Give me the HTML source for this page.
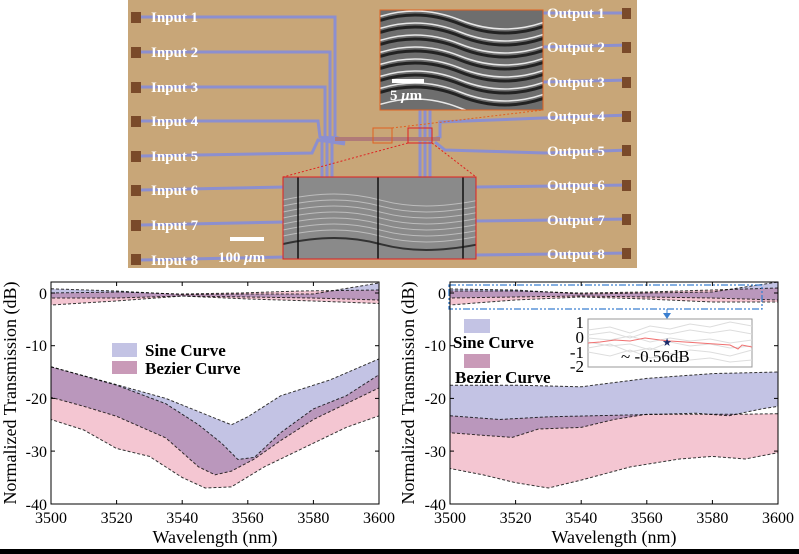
<!DOCTYPE html>
<html><head><meta charset="utf-8"><style>
html,body{margin:0;padding:0;background:#fff;}
svg{display:block;}
.t{font-family:"Liberation Serif",serif;}
</style></head><body>
<svg width="799" height="554" viewBox="0 0 799 554" xmlns="http://www.w3.org/2000/svg">
<defs>
<clipPath id="cl"><rect x="51" y="282" width="328" height="222"/></clipPath>
<clipPath id="cr"><rect x="450" y="282" width="328" height="222"/></clipPath>
<clipPath id="ci1"><rect x="380" y="10" width="163" height="100"/></clipPath>
<clipPath id="ci2"><rect x="283" y="177" width="193" height="82"/></clipPath>
</defs>
<!-- top micrograph -->
<rect x="128" y="0" width="509" height="268" fill="#c8a678"/>
<g fill="none" stroke="#8c8fcf" stroke-width="3">
<polyline points="141,17 335,17 335,137 345,140"/>
<polyline points="141,52 330,52 330,137 345,141"/>
<polyline points="141,87 325,87 325,137 345,142"/>
<polyline points="141,121 318,121 320,137 345,143"/>
<polyline points="141,156 312,153 318,140 345,144"/>
<polyline points="141,190 285,187"/>
<polyline points="141,225 285,222"/>
<polyline points="141,260 285,257"/>
<polyline points="322,140 322,178"/><polyline points="327,140 327,178"/><polyline points="332,140 332,178"/>
<polyline points="420,110 420,178"/><polyline points="425,110 425,178"/><polyline points="430,110 430,178"/>
<polyline points="430,140 440,137 440,122 543,118 630,115"/>
<polyline points="435,142 445,150 545,153 630,150"/>
<polyline points="543,13 630,13"/><polyline points="543,47 630,45"/><polyline points="543,82 630,80"/>
<polyline points="476,187 630,185"/><polyline points="476,221 630,219"/><polyline points="476,255 630,253"/>
</g>
<polyline points="335,139 440,139" stroke="#b07a78" stroke-width="4" fill="none"/>
<g fill="#7a4a2a">
<rect x="131" y="12" width="10" height="11"/><rect x="131" y="47" width="10" height="11"/><rect x="131" y="82" width="10" height="11"/><rect x="131" y="116" width="10" height="11"/><rect x="131" y="151" width="10" height="11"/><rect x="131" y="185" width="10" height="11"/><rect x="131" y="220" width="10" height="11"/><rect x="131" y="254" width="10" height="11"/>
<rect x="622" y="8" width="9" height="11"/><rect x="622" y="42" width="9" height="11"/><rect x="622" y="77" width="9" height="11"/><rect x="622" y="111" width="9" height="11"/><rect x="622" y="145" width="9" height="11"/><rect x="622" y="180" width="9" height="11"/><rect x="622" y="214" width="9" height="11"/><rect x="622" y="248" width="9" height="11"/>
</g>
<rect x="373" y="128" width="19" height="15" fill="none" stroke="#e06020" stroke-width="1"/>
<rect x="408" y="128" width="24" height="15" fill="none" stroke="#e02020" stroke-width="1"/>
<line x1="392" y1="128" x2="543" y2="110" stroke="#e06020" stroke-dasharray="2,2"/>
<line x1="408" y1="143" x2="283" y2="177" stroke="#e02020" stroke-dasharray="2,2"/>
<line x1="432" y1="143" x2="476" y2="177" stroke="#e02020" stroke-dasharray="2,2"/>
<!-- inset 1 -->
<rect x="380" y="10" width="163" height="100" fill="#6e6e6e"/>
<g clip-path="url(#ci1)" fill="none">
<path d="M370,20 C400,8 430,8 460,20 S520,32 550,20" stroke="#e8e8e8" stroke-width="1.5"/>
<path d="M370,24 C400,12 430,12 460,24 S520,36 550,24" stroke="#222" stroke-width="3"/>
<path d="M370,32 C400,20 430,20 460,32 S520,44 550,32" stroke="#e8e8e8" stroke-width="1.5"/>
<path d="M370,36 C400,24 430,24 460,36 S520,48 550,36" stroke="#222" stroke-width="3"/>
<path d="M370,44 C400,32 430,32 460,44 S520,56 550,44" stroke="#e8e8e8" stroke-width="1.5"/>
<path d="M370,48 C400,36 430,36 460,48 S520,60 550,48" stroke="#222" stroke-width="3"/>
<path d="M370,56 C400,44 430,44 460,56 S520,68 550,56" stroke="#e8e8e8" stroke-width="1.5"/>
<path d="M370,60 C400,48 430,48 460,60 S520,72 550,60" stroke="#222" stroke-width="3"/>
<path d="M370,68 C400,56 430,56 460,68 S520,80 550,68" stroke="#e8e8e8" stroke-width="1.5"/>
<path d="M370,72 C400,60 430,60 460,72 S520,84 550,72" stroke="#222" stroke-width="3"/>
<path d="M370,80 C400,68 430,68 460,80 S520,92 550,80" stroke="#e8e8e8" stroke-width="1.5"/>
<path d="M370,84 C400,72 430,72 460,84 S520,96 550,84" stroke="#222" stroke-width="3"/>
<path d="M370,92 C400,80 430,80 460,92 S520,104 550,92" stroke="#e8e8e8" stroke-width="1.5"/>
<path d="M370,96 C400,84 430,84 460,96 S520,108 550,96" stroke="#222" stroke-width="3"/>
<path d="M370,108 C400,96 430,96 460,108 S520,120 550,108" stroke="#e8e8e8" stroke-width="1.5"/>
</g>
<rect x="380" y="10" width="163" height="100" fill="none" stroke="#e06020" stroke-width="1"/>
<rect x="392" y="79" width="32" height="4" fill="#fff"/>
<text x="390" y="100" class="t" font-size="15" font-weight="bold" fill="#fff">5 <tspan font-style="italic">μ</tspan>m</text>
<!-- inset 2 -->
<rect x="283" y="177" width="193" height="82" fill="#8a8a8a"/>
<g clip-path="url(#ci2)" fill="none" stroke="#bdbdbd" stroke-width="1">
<path d="M283,200 C320,192 350,192 380,200 S440,208 480,200"/>
<path d="M283,206 C320,198 350,198 380,206 S440,214 480,206"/>
<path d="M283,212 C320,204 350,204 380,212 S440,220 480,212"/>
<path d="M283,218 C320,210 350,210 380,218 S440,226 480,218"/>
<path d="M283,224 C320,216 350,216 380,224 S440,232 480,224"/>
<path d="M283,230 C320,222 350,222 380,230 S440,238 480,230"/>
<path d="M283,236 C320,228 350,228 380,236 S440,244 480,236"/>
<path d="M283,244 C320,236 350,236 380,244 S440,252 480,244" stroke="#333" stroke-width="2"/>
</g>
<g stroke="#111" stroke-width="1.5"><line x1="298" y1="177" x2="298" y2="259"/><line x1="378" y1="177" x2="378" y2="259"/><line x1="463" y1="177" x2="463" y2="259"/></g>
<rect x="283" y="177" width="193" height="82" fill="none" stroke="#e02020" stroke-width="1"/>
<rect x="230" y="237" width="34" height="4" fill="#fff"/>
<text x="218" y="262" class="t" font-size="15" font-weight="bold" fill="#fff">100 <tspan font-style="italic">μ</tspan>m</text>
<g class="t" font-size="15" font-weight="bold" fill="#fff">
<text x="151" y="22">Input 1</text><text x="151" y="57">Input 2</text><text x="151" y="92">Input 3</text><text x="151" y="126">Input 4</text><text x="151" y="161">Input 5</text><text x="151" y="195">Input 6</text><text x="151" y="230">Input 7</text><text x="151" y="265">Input 8</text>
<text x="547" y="18">Output 1</text><text x="547" y="52">Output 2</text><text x="547" y="87">Output 3</text><text x="547" y="121">Output 4</text><text x="547" y="156">Output 5</text><text x="547" y="190">Output 6</text><text x="547" y="225">Output 7</text><text x="547" y="259">Output 8</text>
</g>

<!-- LEFT CHART -->
<g clip-path="url(#cl)" stroke="#333" stroke-width="1" stroke-dasharray="3,2">
<path fill="#f4c6d2" d="M51,366.8 L116.6,385.2 L165.8,403.7 L198.6,424.8 L221.6,443.2 L237.9,459.5 L254.4,457.4 L280.6,432.7 L313.4,408.9 L346.2,395.8 L379,374.7 L379,415.8 L346.2,427.4 L313.4,443.2 L264.2,466.9 L231.4,486.9 L205.2,488 L182.2,477.5 L149.4,456.4 L116.6,448.5 L83.8,430 L51,419.5Z"/>
<path fill="#c3c3e4" style="mix-blend-mode:multiply" d="M51,366.8 L116.6,384.7 L165.8,398.4 L198.6,411.6 L231.4,424.8 L247.8,416.8 L280.6,395.8 L329.8,380 L379,358.9 L379,387.9 L346.2,403.7 L313.4,419.5 L280.6,440.6 L254.4,459 L231.4,471.1 L215,474.8 L198.6,466.9 L165.8,437.9 L116.6,416.3 L83.8,406.3 L51,397.3Z"/>
<path fill="#f4c6d2" d="M51,293 L120,292 L180,294 L240,293 L300,291 L379,290 L379,303.5 L313,301 L248,299 L182,296 L116,301 L51,305Z"/>
<path fill="#c3c3e4" style="mix-blend-mode:multiply" d="M51,288.8 L116,291 L182,294.6 L248,294 L313,294 L379,283 L379,300 L313,298 L248,297 L182,296 L116,298 L51,298Z"/>
</g>
<rect x="51" y="282" width="328" height="222" fill="none" stroke="#000" stroke-width="1"/>
<g stroke="#000"><line x1="51" y1="293" x2="55" y2="293"/><line x1="51" y1="345.7" x2="55" y2="345.7"/><line x1="51" y1="398.4" x2="55" y2="398.4"/><line x1="51" y1="451.1" x2="55" y2="451.1"/>
<line x1="116.6" y1="504" x2="116.6" y2="500"/><line x1="182.2" y1="504" x2="182.2" y2="500"/><line x1="247.8" y1="504" x2="247.8" y2="500"/><line x1="313.4" y1="504" x2="313.4" y2="500"/>
<line x1="116.6" y1="282" x2="116.6" y2="286"/><line x1="182.2" y1="282" x2="182.2" y2="286"/><line x1="247.8" y1="282" x2="247.8" y2="286"/><line x1="313.4" y1="282" x2="313.4" y2="286"/>
<line x1="379" y1="293" x2="375" y2="293"/><line x1="379" y1="345.7" x2="375" y2="345.7"/><line x1="379" y1="398.4" x2="375" y2="398.4"/><line x1="379" y1="451.1" x2="375" y2="451.1"/></g>
<g class="t" font-size="16" text-anchor="end"><text x="47" y="299">0</text><text x="47" y="351">-10</text><text x="47" y="404">-20</text><text x="47" y="457">-30</text><text x="47" y="510">-40</text></g>
<g class="t" font-size="16" text-anchor="middle"><text x="51" y="523">3500</text><text x="116.6" y="523">3520</text><text x="182.2" y="523">3540</text><text x="247.8" y="523">3560</text><text x="313.4" y="523">3580</text><text x="379" y="523">3600</text>
<text x="215" y="543" font-size="18">Wavelength (nm)</text>
<text transform="translate(16,393) rotate(-90)" font-size="18">Normalized Transmission (dB)</text></g>
<rect x="112" y="343" width="25" height="14" fill="#c3c3e4"/>
<rect x="112" y="361" width="25" height="13" fill="#c99ab8"/>
<g class="t" font-size="17" font-weight="bold"><text x="145" y="356">Sine Curve</text><text x="145" y="374">Bezier Curve</text></g>

<!-- RIGHT CHART -->
<g clip-path="url(#cr)" stroke="#333" stroke-width="1" stroke-dasharray="3,2">
<path fill="#f4c6d2" d="M450,415.8 L499.2,419.5 L548.4,416.8 L614,415.3 L663.2,414.2 L696,414.2 L745.2,414.2 L778,413.7 L778,452.7 L745.2,459 L712.4,456.4 L679.6,459 L630.4,466.9 L581.2,480.1 L548.4,488 L515.6,482.7 L482.8,474.8 L450,468.5Z"/>
<path fill="#c3c3e4" style="mix-blend-mode:multiply" d="M450,385.2 L515.6,385.2 L581.2,386.8 L646.8,378.4 L712.4,373.6 L778,372 L778,406.3 L761.6,408.9 L728.8,415.8 L696,413.2 L663.2,414.2 L646.8,414.2 L614,419.5 L581.2,427.4 L538.6,429 L512.3,437.4 L482.8,435.3 L450,432.7Z"/>
<path fill="#f4c6d2" d="M450,291 L515,291 L581,293 L647,292 L712,290 L778,288 L778,302 L712,302 L647,299 L581,297 L515,300 L450,305Z"/>
<path fill="#c3c3e4" style="mix-blend-mode:multiply" d="M450,289 L515,290 L581,294 L647,293 L712,292 L778,282 L778,300 L712,298 L647,297 L581,296 L515,297 L450,298Z"/>
</g>
<rect x="449" y="285" width="313" height="24" fill="none" stroke="#3a7fd0" stroke-width="1.3" stroke-dasharray="7,2,2,2,2,2"/>
<line x1="667" y1="309" x2="667" y2="314" stroke="#3a7fd0"/>
<polygon points="663,313 671,313 667,319" fill="#3a7fd0"/>
<rect x="450" y="282" width="328" height="222" fill="none" stroke="#000" stroke-width="1"/>
<g stroke="#000"><line x1="450" y1="293" x2="454" y2="293"/><line x1="450" y1="345.7" x2="454" y2="345.7"/><line x1="450" y1="398.4" x2="454" y2="398.4"/><line x1="450" y1="451.1" x2="454" y2="451.1"/>
<line x1="515.6" y1="504" x2="515.6" y2="500"/><line x1="581.2" y1="504" x2="581.2" y2="500"/><line x1="646.8" y1="504" x2="646.8" y2="500"/><line x1="712.4" y1="504" x2="712.4" y2="500"/>
<line x1="515.6" y1="282" x2="515.6" y2="286"/><line x1="581.2" y1="282" x2="581.2" y2="286"/><line x1="646.8" y1="282" x2="646.8" y2="286"/><line x1="712.4" y1="282" x2="712.4" y2="286"/>
<line x1="778" y1="293" x2="774" y2="293"/><line x1="778" y1="345.7" x2="774" y2="345.7"/><line x1="778" y1="398.4" x2="774" y2="398.4"/><line x1="778" y1="451.1" x2="774" y2="451.1"/></g>
<g class="t" font-size="16" text-anchor="end"><text x="446" y="299">0</text><text x="446" y="351">-10</text><text x="446" y="404">-20</text><text x="446" y="457">-30</text><text x="446" y="510">-40</text></g>
<g class="t" font-size="16" text-anchor="middle"><text x="450" y="523">3500</text><text x="515.6" y="523">3520</text><text x="581.2" y="523">3540</text><text x="646.8" y="523">3560</text><text x="712.4" y="523">3580</text><text x="778" y="523">3600</text>
<text x="614" y="543" font-size="18">Wavelength (nm)</text>
<text transform="translate(414,393) rotate(-90)" font-size="18">Normalized Transmission (dB)</text></g>
<rect x="464" y="319" width="26" height="14" fill="#c3c3e4"/>
<rect x="464" y="354" width="26" height="14" fill="#c99ab8"/>
<g class="t" font-size="17" font-weight="bold"><text x="453" y="348">Sine Curve</text><text x="455" y="383">Bezier Curve</text></g>
<!-- inset plot -->
<rect x="588" y="319" width="164" height="48" fill="#fff" stroke="#999" stroke-width="1"/>
<g fill="none" stroke="#ddd" stroke-width="1">
<polyline points="588,330 610,327 630,333 650,326 670,329 690,324 710,327 730,322 752,326"/>
<polyline points="588,335 610,332 630,338 650,331 670,334 690,330 710,333 730,330 752,334"/>
<polyline points="588,342 610,346 630,344 650,350 670,342 690,346 710,344 730,348 752,346"/>
<polyline points="588,348 610,344 630,352 650,348 670,354 690,350 710,352 730,356 752,350"/>
<polyline points="588,352 610,356 630,350 650,358 670,356 690,360 710,358 730,362 752,360"/>
<polyline points="588,338 610,340 630,336 650,342 670,338 690,341 710,339 730,343 752,340"/>
</g>
<polyline points="588,343 600,342 615,340 630,341 645,338 660,340 670,341 685,342 700,343 715,344 730,345 738,349 742,345 752,347" fill="none" stroke="#f07070" stroke-width="1"/>
<text x="667" y="346" font-size="11" text-anchor="middle" fill="#1a2a6a">★</text>
<g class="t" font-size="17" text-anchor="end"><text x="584" y="328">1</text><text x="584" y="343">0</text><text x="584" y="358">-1</text><text x="584" y="372">-2</text></g>
<text x="621" y="362" class="t" font-size="17">~ -0.56dB</text>
<rect x="0" y="549" width="799" height="5" fill="#000"/>
</svg>
</body></html>
